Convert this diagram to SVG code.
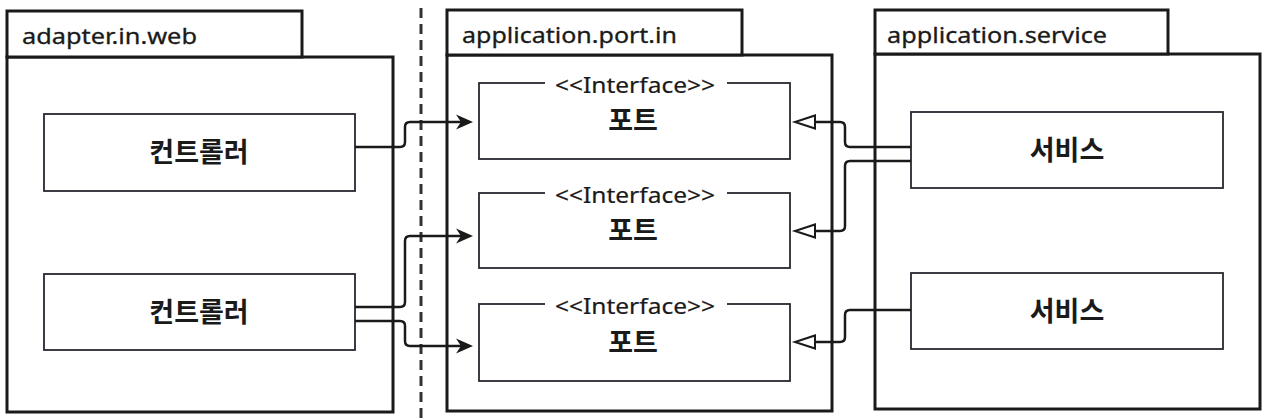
<svg xmlns="http://www.w3.org/2000/svg" width="1274" height="418" viewBox="0 0 1274 418">
<style>
.pkg{fill:#fff;stroke:#1a1a1a;stroke-width:3}
.box{fill:#fff;stroke:#2a2630;stroke-width:1.8}
.tab{font-family:"Noto Sans","Open Sans",sans-serif;font-size:22px;fill:#1a1a1a;stroke:#1a1a1a;stroke-width:0.3}
.st{font-family:"Noto Sans","Open Sans",sans-serif;font-size:21px;fill:#1a1a1a;text-anchor:middle;stroke:#1a1a1a;stroke-width:0.2}
.ko{font-family:"Noto Sans CJK KR","Noto Sans",sans-serif;font-weight:bold;fill:#1a1a1a;text-anchor:middle}
.conn{fill:none;stroke:#1a1a1a;stroke-width:2.5}
</style>
<defs>
<marker id="barb" markerUnits="userSpaceOnUse" markerWidth="20" markerHeight="18" viewBox="0 -9 20 18" refX="5" refY="0" orient="auto">
<path d="M0,-7.5 L17,0 L0,7.5 L5,0 Z" fill="#1a1a1a"/>
</marker>
<marker id="tri" markerUnits="userSpaceOnUse" markerWidth="26" markerHeight="18" viewBox="-2 -9 26 18" refX="0" refY="0" orient="auto">
<path d="M0,-6.5 L20,0 L0,6.5 Z" fill="#fff" stroke="#1a1a1a" stroke-width="2"/>
</marker>
</defs>
<rect width="1274" height="418" fill="#fff"/>
<line x1="421" y1="8" x2="421" y2="418" stroke="#333" stroke-width="3" stroke-dasharray="10 6"/>
<g id="pkg-adapter">
<rect class="pkg" x="7" y="57" width="386" height="355"/>
<rect class="pkg" x="7" y="11" width="295" height="46"/>
<text class="tab" x="22" y="44" textLength="175" lengthAdjust="spacingAndGlyphs">adapter.in.web</text>
</g>
<g id="pkg-port">
<rect class="pkg" x="447" y="55" width="385" height="356"/>
<rect class="pkg" x="447" y="10" width="295" height="45"/>
<text class="tab" x="462" y="43" textLength="215" lengthAdjust="spacingAndGlyphs">application.port.in</text>
</g>
<g id="pkg-service">
<rect class="pkg" x="875" y="54" width="385" height="355"/>
<rect class="pkg" x="875" y="10" width="293" height="44"/>
<text class="tab" x="887" y="43" textLength="220" lengthAdjust="spacingAndGlyphs">application.service</text>
</g>
<g id="controller1">
<rect class="box" x="44" y="114" width="311" height="77"/>
<text class="ko" x="199" y="162" font-size="27">컨트롤러</text>
</g>
<g id="controller2">
<rect class="box" x="44" y="274" width="311" height="76"/>
<text class="ko" x="199" y="322" font-size="27">컨트롤러</text>
</g>
<g id="port1">
<rect class="box" x="479" y="83" width="311" height="76"/>
<rect x="545" y="74" width="182" height="18" fill="#fff"/>
<text class="st" x="635" y="93" textLength="160" lengthAdjust="spacingAndGlyphs">&lt;&lt;Interface&gt;&gt;</text>
<text class="ko" x="633" y="130" font-size="27">포트</text>
</g>
<g id="port2">
<rect class="box" x="479" y="193" width="311" height="75"/>
<rect x="545" y="184" width="182" height="18" fill="#fff"/>
<text class="st" x="635" y="203" textLength="160" lengthAdjust="spacingAndGlyphs">&lt;&lt;Interface&gt;&gt;</text>
<text class="ko" x="633" y="240" font-size="27">포트</text>
</g>
<g id="port3">
<rect class="box" x="479" y="304" width="311" height="77"/>
<rect x="545" y="295" width="182" height="18" fill="#fff"/>
<text class="st" x="635" y="314" textLength="160" lengthAdjust="spacingAndGlyphs">&lt;&lt;Interface&gt;&gt;</text>
<text class="ko" x="633" y="352" font-size="27">포트</text>
</g>
<g id="service1">
<rect class="box" x="911" y="112" width="312" height="76"/>
<text class="ko" x="1067" y="160" font-size="27">서비스</text>
</g>
<g id="service2">
<rect class="box" x="911" y="273" width="312" height="76"/>
<text class="ko" x="1067" y="321" font-size="27">서비스</text>
</g>
<g id="connectors">
<path class="conn" marker-end="url(#barb)" d="M355,147 H400 Q405,147 405,142 V127 Q405,122 410,122 H461"/>
<path class="conn" marker-end="url(#barb)" d="M355,307 H400 Q405,307 405,302 V241 Q405,236 410,236 H461"/>
<path class="conn" marker-end="url(#barb)" d="M355,321 H400 Q405,321 405,326 V341 Q405,346 410,346 H461"/>
<path class="conn" marker-end="url(#tri)" d="M911,147 H850 Q845,147 845,142 V127 Q845,122 840,122 H815"/>
<path class="conn" marker-end="url(#tri)" d="M911,161 H850 Q845,161 845,166 V226 Q845,231 840,231 H815"/>
<path class="conn" marker-end="url(#tri)" d="M911,310 H850 Q845,310 845,315 V337 Q845,342 840,342 H815"/>
</g>
</svg>
